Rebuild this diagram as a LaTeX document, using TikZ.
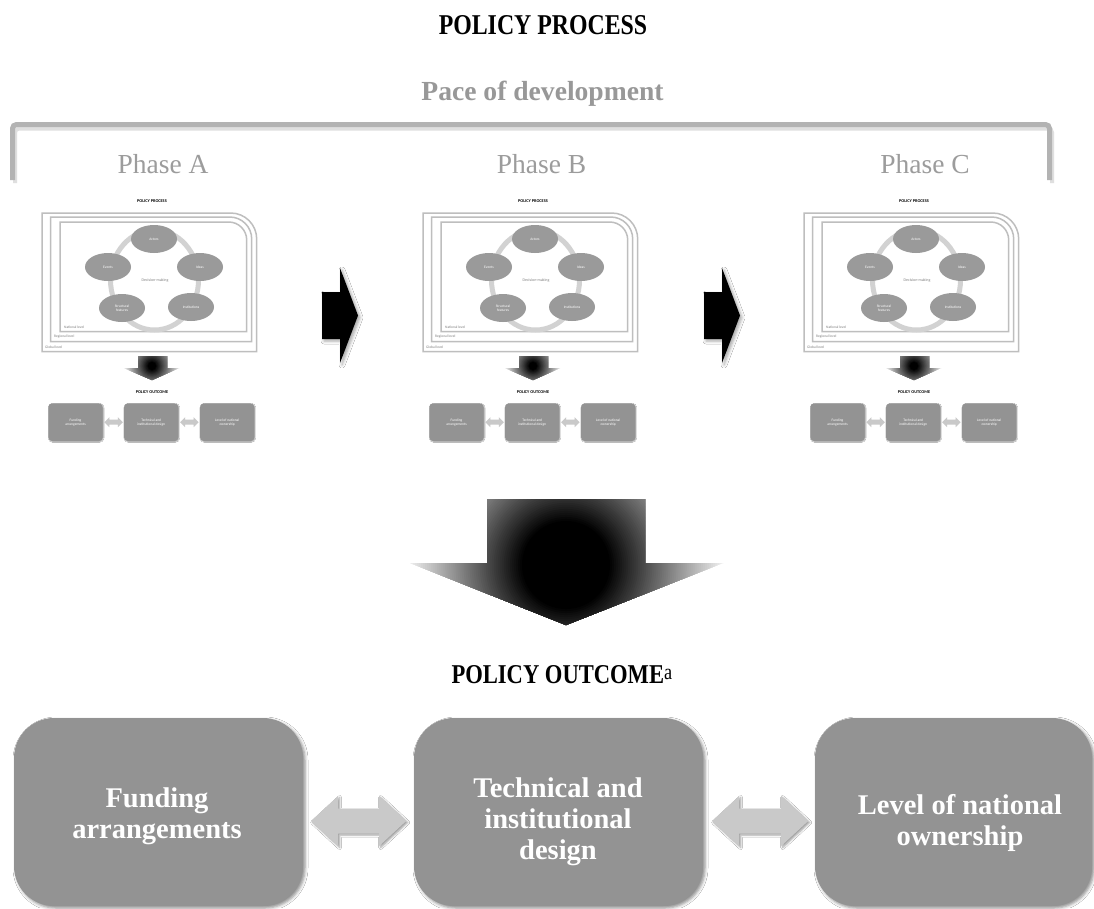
\documentclass[tikz,border=0pt]{standalone}
\usepackage{fontspec}
\setmainfont{Liberation Serif}
\newfontfamily\narrowfont{Liberation Serif}[FakeStretch=0.83]
\newfontfamily\minifont{Carlito}
\usetikzlibrary{shapes.geometric,shadows.blur,calc}
\definecolor{boxgray}{HTML}{939393}
\definecolor{txtgray}{HTML}{989898}
\definecolor{phasegray}{HTML}{9C9C9C}
\definecolor{bracketgray}{HTML}{B3B3B3}
\definecolor{arrowgray}{HTML}{C9C9C9}
\definecolor{framegray}{HTML}{BEBEBE}
\definecolor{ringgray}{HTML}{D2D2D2}
\definecolor{ellgray}{HTML}{9A9A9A}
% #1 start (left tip), #2 length, #3 half height, #4 head length, #5 style
\newcommand{\mydbl}[5]{%
  \path[#5] (#1) -- ++(#4,-#3) -- ++(0,#3/2) -- ++({#2-2*#4},0) -- ++(0,-#3/2)
    -- ++(#4,#3) -- ++(-#4,#3) -- ++(0,-#3/2) -- ++({-(#2-2*#4)},0) -- ++(0,#3/2) -- cycle;}
% glow: #1 centre, #2 outer radius, #3 black radius, #4 steps
\newcommand{\myglow}[4]{%
  \foreach \i in {0,...,#4} {%
    \pgfmathsetmacro\rr{#2-\i*(#2-#3)/#4}%
    \pgfmathsetmacro\pp{\i*100/#4}%
    \fill[black!\pp!white] (#1) circle (\rr);
  }}
\tikzset{
  minitext/.style={font=\minifont\fontsize{3.6}{4.2}\selectfont},
  minititle/.style={font=\minifont\bfseries\fontsize{4.3}{5}\selectfont, inner sep=0},
  miniell/.style={ellipse, fill=ellgray, minimum width=46, minimum height=28, inner sep=0,
    text=white, align=center, minitext},
  minibox/.style={rectangle, rounded corners=4, fill=boxgray, minimum width=54.4,
    minimum height=37.7, inner sep=0, text=white, align=center, minitext,
    blur shadow={shadow xshift=0.6pt, shadow yshift=-0.6pt, shadow blur radius=0.8pt}},
  levellabel/.style={anchor=west, text=gray, inner sep=0, minitext},
  framestyle/.style={framegray, line width=1.5},
  bigbox/.style={rectangle, rounded corners=40, fill=boxgray, minimum width=289,
    minimum height=188, inner sep=0,
    blur shadow={shadow xshift=2pt, shadow yshift=-2pt, shadow blur radius=3pt, shadow opacity=45}},
  boxtext/.style={text=white, font=\bfseries\fontsize{28.5}{31}\selectfont, align=center, inner sep=0},
  phaselabel/.style={anchor=base, text=phasegray, font=\fontsize{27.5}{30}\selectfont},
  minimap/.pic={
    \node[minititle] (-ptitle) at (152,201) {POLICY PROCESS};
    \draw[framestyle] (42,351.7) -- (42,213) -- (230.7,213) arc[start angle=-90, end angle=0, radius=26] -- (256.7,351.7) -- cycle;
    \draw[framestyle] (50.7,341.7) -- (50.7,217) -- (229.7,217) arc[start angle=-90, end angle=0, radius=22] -- (251.7,341.7) -- cycle;
    \draw[framestyle] (60,331.7) -- (60,222) -- (228.7,222) arc[start angle=-90, end angle=0, radius=18] -- (246.7,331.7) -- cycle;
    \draw[ringgray, line width=5] (154.5,280) ellipse [x radius=44, y radius=50];
    \node[minitext, text=gray, font=\minifont\fontsize{4}{5}\selectfont] (-dm) at (155,280) {Decision-making};
    \node[miniell] (-actors) at (154,239) {Actors};
    \node[miniell] (-ideas) at (200,267) {Ideas};
    \node[miniell] (-inst) at (191,307) {Institutions};
    \node[miniell] (-struct) at (122,308) {Structural\\features};
    \node[miniell] (-events) at (108,267) {Events};
    \node[levellabel] (-nat) at (64,327) {National level};
    \node[levellabel] (-reg) at (54,337) {Regional level};
    \node[levellabel] (-glob) at (45,347) {Global level};
    \begin{scope}
      \clip (138,356) -- (167,356) -- (167,368) -- (179,368) -- (152,380) -- (124,368) -- (138,368) -- cycle;
      \myglow{152,366}{30}{4}{40}
    \end{scope}
    \node[minititle] (-pout) at (152,392.5) {POLICY OUTCOME};
    \node[minibox] (-fund) at (75.5,422.2) {Funding\\arrangements};
    \node[minibox] (-tech) at (151.2,422.2) {Technical and\\institutional design};
    \node[minibox] (-own) at (227.2,422.2) {Level of national\\ownership};
    \mydbl{$(-fund.east)+(1.5,0)$}{18.5}{5}{5}{fill=arrowgray}
    \mydbl{$(-tech.east)+(1.5,0)$}{18.5}{5}{5}{fill=arrowgray}
  }
}
\begin{document}
\begin{tikzpicture}[x=1pt,y=-1pt]
\useasboundingbox (0,0) rectangle (1094,908);
\fill[white] (0,0) rectangle (1094,908);

% headings
\node[anchor=base, font=\narrowfont\bfseries\fontsize{28.7}{30}\selectfont] (title) at (543,34) {POLICY PROCESS};
\node[anchor=base, text=txtgray, font=\bfseries\fontsize{27.6}{30}\selectfont] (pace) at (542.5,100) {Pace of development};

% bracket
\draw[gray!25, line width=4, rounded corners=4] (15,183) |- (1052,128.5) -- (1052,183);
\draw[bracketgray, line width=5, rounded corners=4] (12.5,180) |- (1049.5,124.5) -- (1049.5,180);

% phases
\node[phaselabel] (phA) at (163,173) {Phase A};
\node[phaselabel] (phB) at (541.5,173) {Phase B};
\node[phaselabel] (phC) at (925,173) {Phase C};

% mini diagrams
\pic (pa) at (0,0) {minimap};
\pic (pb) at (381,0) {minimap};
\pic (pc) at (762,0) {minimap};

% black arrows between phases
\fill[black, blur shadow={shadow xshift=2pt, shadow yshift=-2pt, shadow blur radius=3pt, shadow opacity=35}]
  (322,292) -- (340,292) -- (340,268) -- (358,315.5) -- (340,363) -- (340,339) -- (322,339) -- cycle;
\fill[black, blur shadow={shadow xshift=2pt, shadow yshift=-2pt, shadow blur radius=3pt, shadow opacity=35}]
  (704,292) -- (722,292) -- (722,268) -- (740,315.5) -- (722,363) -- (722,339) -- (704,339) -- cycle;

% big arrow
\begin{scope}
  \clip (487,499) -- (645,499) -- (645,563) -- (723,563) -- (566,625) -- (410,563) -- (487,563) -- cycle;
  \myglow{566,565}{165}{44}{60}
\end{scope}

\node[anchor=base west, font=\narrowfont\bfseries\fontsize{27.2}{30}\selectfont] (outcome) at (448,683)
  {POLICY OUTCOME\raisebox{4pt}{\mdseries\fontsize{22}{22}\selectfont a}};

% outcome boxes
\node[bigbox] (fund) at (158.5,812) {};
\node[bigbox] (tech) at (558.5,812) {};
\node[bigbox, minimum width=277] (own) at (953.5,812) {};
\node[boxtext, anchor=north] (fundt) at (157,787.3) {Funding\\arrangements};
\node[boxtext, anchor=north] (techt) at (558,777.5) {Technical and\\institutional\\design};
\node[boxtext, anchor=north] (ownt) at (960,794.5) {Level of national\\ownership};

\mydbl{$(fund.east)+(8,9)$}{95}{25}{27}{fill=arrowgray, blur shadow={shadow xshift=1.5pt, shadow yshift=-1.5pt, shadow blur radius=2pt, shadow opacity=40}}
\mydbl{$(tech.east)+(9,9)$}{96}{25}{27}{fill=arrowgray, blur shadow={shadow xshift=1.5pt, shadow yshift=-1.5pt, shadow blur radius=2pt, shadow opacity=40}}
\end{tikzpicture}
\end{document}
